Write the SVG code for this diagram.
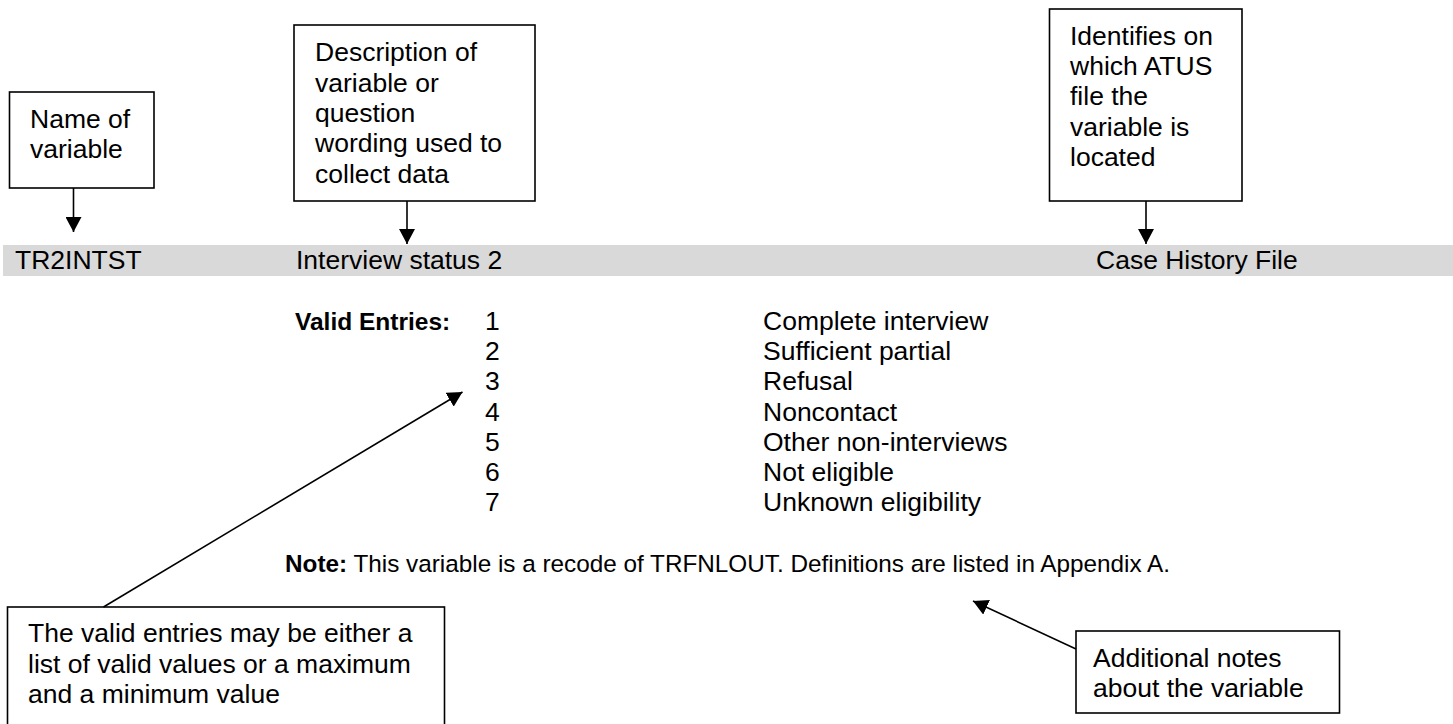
<svg xmlns="http://www.w3.org/2000/svg" width="1453" height="724" viewBox="0 0 1453 724">
  <style>
    .box { fill: #ffffff; stroke: #000000; stroke-width: 1.6; }
    .t { font-family: "Liberation Sans", Arial, sans-serif; font-size: 26.5px; fill: #000000; }
    .tb { font-family: "Liberation Sans", Arial, sans-serif; font-size: 24.5px; font-weight: bold; fill: #000000; }
    .tn { font-family: "Liberation Sans", Arial, sans-serif; font-size: 24.3px; fill: #000000; }
    .conn { fill: none; stroke: #000000; stroke-width: 1.6; marker-end: url(#arrow); }
  </style>
  <defs>
    <marker id="arrow" viewBox="0 0 15 16" refX="15" refY="8" markerWidth="15" markerHeight="16" markerUnits="userSpaceOnUse" orient="auto">
      <path d="M0,0 L15,8 L0,16 z" fill="#000000"/>
    </marker>
  </defs>
  <rect width="1453" height="724" fill="#ffffff"/>

  <g id="record-bar">
    <rect x="3" y="245" width="1450" height="31" fill="#d9d9d9"/>
    <text class="t" x="15" y="269">TR2INTST</text>
    <text class="t" x="296" y="269">Interview status 2</text>
    <text class="t" x="1096" y="269">Case History File</text>
  </g>

  <g id="valid-entries">
    <text class="tb" x="295" y="330">Valid Entries:</text>
    <text class="t" x="485" y="330">1</text>
    <text class="t" x="485" y="360">2</text>
    <text class="t" x="485" y="390">3</text>
    <text class="t" x="485" y="420.5">4</text>
    <text class="t" x="485" y="450.5">5</text>
    <text class="t" x="485" y="480.5">6</text>
    <text class="t" x="485" y="510.5">7</text>
    <text class="t" x="763" y="330">Complete interview</text>
    <text class="t" x="763" y="360">Sufficient partial</text>
    <text class="t" x="763" y="390">Refusal</text>
    <text class="t" x="763" y="420.5">Noncontact</text>
    <text class="t" x="763" y="450.5">Other non-interviews</text>
    <text class="t" x="763" y="480.5">Not eligible</text>
    <text class="t" x="763" y="510.5">Unknown eligibility</text>
  </g>

  <g id="note">
    <text class="tn" x="285" y="572"><tspan font-weight="bold">Note:</tspan> This variable is a recode of TRFNLOUT. Definitions are listed in Appendix A.</text>
  </g>

  <g id="name-box">
    <rect class="box" x="9.5" y="92" width="144.5" height="96"/>
    <text class="t" x="30" y="128">Name of</text>
    <text class="t" x="30" y="158">variable</text>
  </g>

  <g id="description-box">
    <rect class="box" x="294" y="25" width="241" height="176"/>
    <text class="t" x="315" y="61">Description of</text>
    <text class="t" x="315" y="91.5">variable or</text>
    <text class="t" x="315" y="122">question</text>
    <text class="t" x="315" y="152">wording used to</text>
    <text class="t" x="315" y="182.5">collect data</text>
  </g>

  <g id="file-box">
    <rect class="box" x="1049.5" y="9" width="192.5" height="192"/>
    <text class="t" x="1070" y="44.5">Identifies on</text>
    <text class="t" x="1070" y="74.5">which ATUS</text>
    <text class="t" x="1070" y="105">file the</text>
    <text class="t" x="1070" y="135.5">variable is</text>
    <text class="t" x="1070" y="166">located</text>
  </g>

  <g id="entries-box">
    <rect class="box" x="7.5" y="607" width="437" height="125"/>
    <text class="t" x="28" y="642">The valid entries may be either a</text>
    <text class="t" x="28" y="672.5">list of valid values or a maximum</text>
    <text class="t" x="28" y="703">and a minimum value</text>
  </g>

  <g id="notes-box">
    <rect class="box" x="1076" y="631" width="263.5" height="82"/>
    <text class="t" x="1093" y="667">Additional notes</text>
    <text class="t" x="1093" y="697">about the variable</text>
  </g>

  <g id="connectors">
    <line class="conn" x1="73.5" y1="188" x2="73.5" y2="232"/>
    <line class="conn" x1="407" y1="201" x2="407" y2="244"/>
    <line class="conn" x1="1146" y1="201" x2="1146" y2="244"/>
    <line class="conn" x1="103.5" y1="607" x2="462.5" y2="392"/>
    <line class="conn" x1="1076" y1="649" x2="973" y2="601"/>
  </g>
</svg>
